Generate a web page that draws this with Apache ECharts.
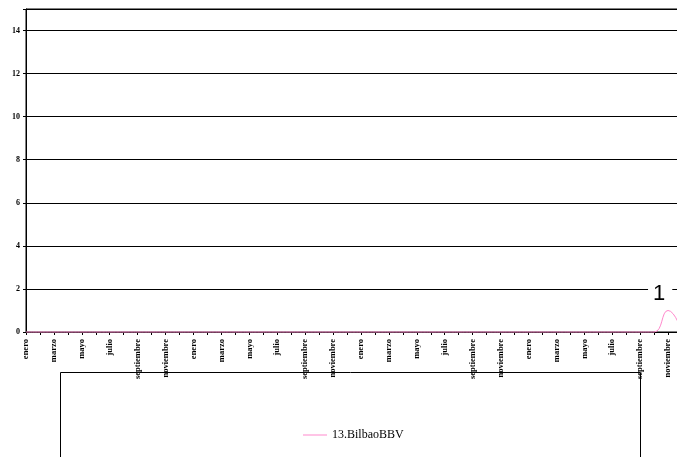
<!DOCTYPE html>
<html><head><meta charset="utf-8">
<script src="https://cdn.jsdelivr.net/npm/echarts@6/dist/echarts.min.js"></script>
<style>html,body{margin:0;padding:0;background:#fff}#c{width:677px;height:457px}</style>
</head><body><div id="c"></div>
<script>
const monthNames = ['enero','febrero','marzo','abril','mayo','junio','julio','agosto','septiembre','octubre','noviembre','diciembre'];
const categories = [].concat(monthNames, monthNames, monthNames, monthNames);
const seriesName = '13.BilbaoBBV';
const values = [
  0,0,0,0,0,0,0,0,0,0,0,0,
  0,0,0,0,0,0,0,0,0,0,0,0,
  0,0,0,0,0,0,0,0,0,0,0,0,
  0,0,0,0,0,0,0,0,0,0,1,0
];
const yTicks = [0,2,4,6,8,10,12,14];
const lineColor = '#ff88cc';

const seriesData = values.map(v => v > 0 ? {
  value: v,
  label: {
    show: true, position: [-20, -28], align: 'left', verticalAlign: 'top',
    fontFamily: 'Liberation Sans', fontSize: 22, color: '#000',
    backgroundColor: '#fff', padding: [0, 7, 0, 5]
  }
} : v);

const chart = echarts.init(document.getElementById('c'));
chart.setOption({
  animation: false,
  backgroundColor: '#fff',
  grid: { left: 26, width: 656, top: 9, height: 323, outerBoundsMode: 'none', containLabel: false,
    show: true, borderColor: '#000', borderWidth: 1, backgroundColor: 'transparent' },
  graphic: [{
    type: 'rect', shape: { x: 60.5, y: 372.5, width: 580, height: 100 },
    style: { fill: 'none', stroke: '#000', lineWidth: 1 }
  }],
  legend: {
    data: [{ name: seriesName, itemStyle: { color: lineColor, opacity: 1 } }],
    left: 298, top: 424, itemWidth: 24, itemHeight: 1, itemGap: 4,
    icon: 'rect',
    textStyle: { fontFamily: 'Liberation Serif', fontSize: 12, color: '#000' }
  },
  xAxis: {
    type: 'category', data: categories, boundaryGap: false,
    axisLine: { lineStyle: { color: '#000', width: 1 } },
    axisTick: { interval: 0, length: 3, lineStyle: { color: '#000' } },
    axisLabel: { interval: 1, rotate: 90, margin: 7, fontFamily: 'Liberation Serif', fontWeight: 'bold', fontSize: 8.5, color: '#000' },
    splitLine: { show: false }
  },
  yAxis: {
    type: 'value', min: 0, max: 15, interval: 2,
    axisLine: { show: true, lineStyle: { color: '#000', width: 1 } },
    axisTick: { show: true, length: 3, lineStyle: { color: '#000' } },
    axisLabel: { margin: 6, fontFamily: 'Liberation Serif', fontWeight: 'bold', fontSize: 8, color: '#000',
      formatter: v => yTicks.indexOf(v) >= 0 ? String(v) : '' },
    splitLine: { show: true, lineStyle: { color: '#000', width: 1 } }
  },
  series: [{
    name: seriesName, type: 'line', data: seriesData, smooth: 0.5, clip: false,
    symbol: 'circle', symbolSize: 0, showSymbol: true, showAllSymbol: true,
    lineStyle: { color: lineColor, width: 1 }, itemStyle: { color: 'rgba(0,0,0,0)' },
    labelLayout: { hideOverlap: false }, z: 5
  }]
});
</script></body></html>
